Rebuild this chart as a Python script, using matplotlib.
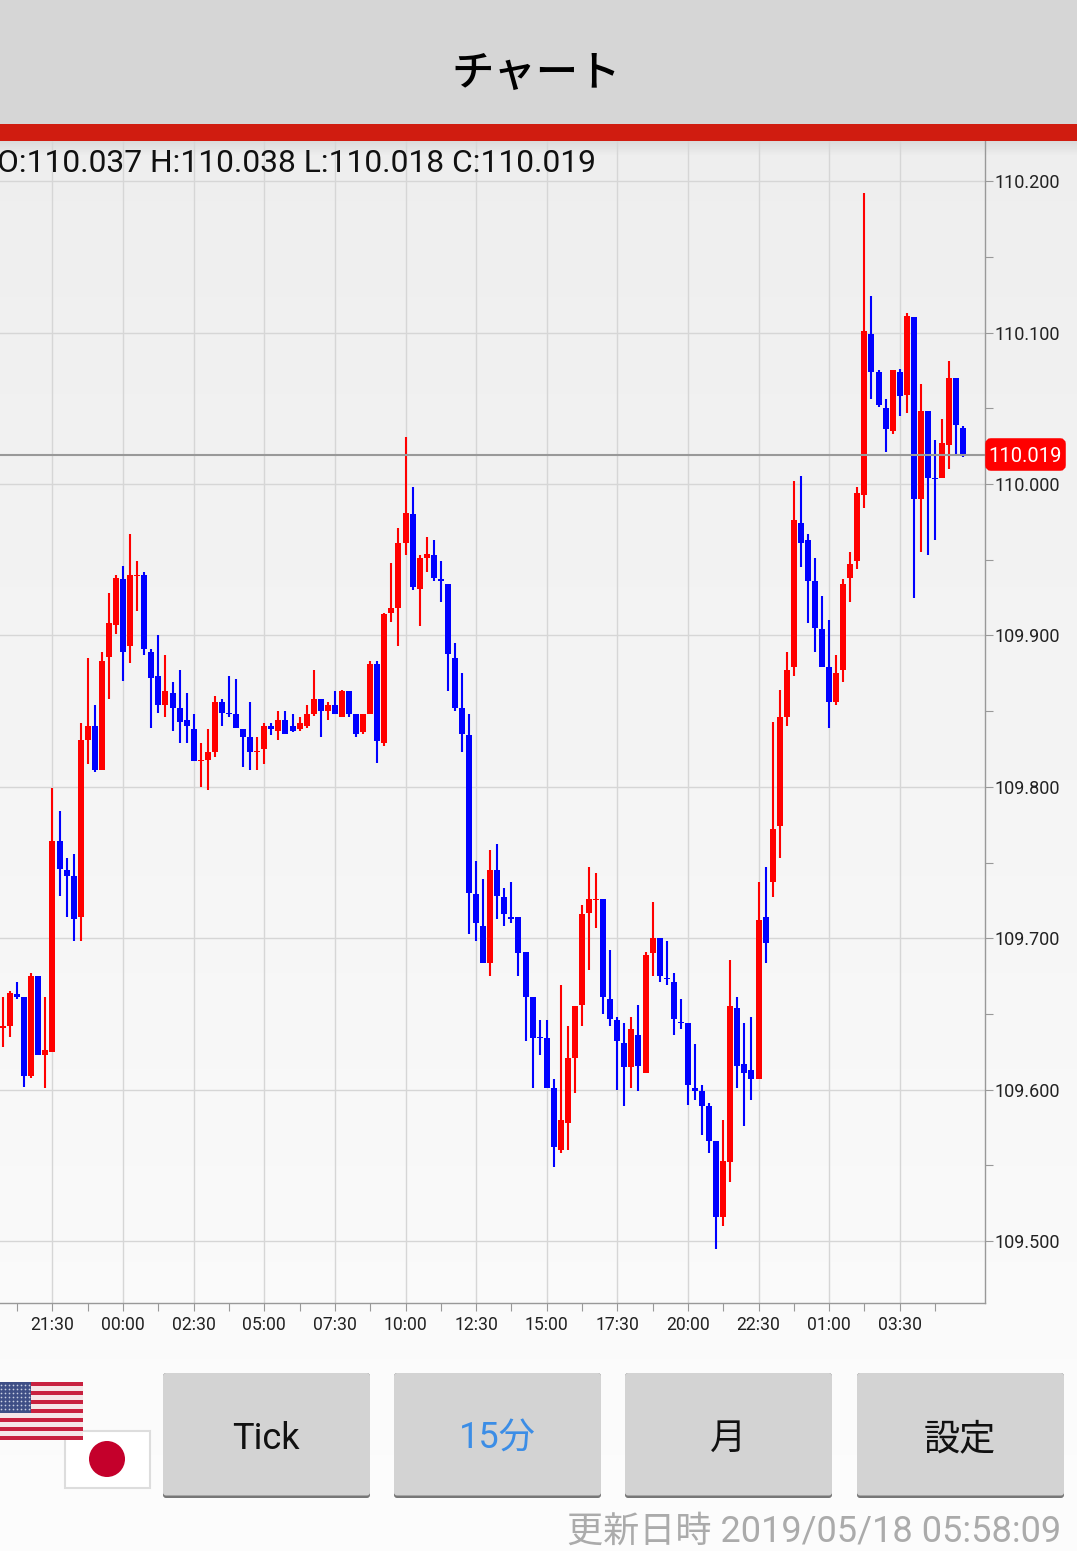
import matplotlib
matplotlib.use("Agg")
import matplotlib.pyplot as plt
from matplotlib.patches import Rectangle, FancyBboxPatch, Circle
import numpy as np

plt.rcParams['font.family'] = ['Roboto', 'Noto Sans CJK JP', 'DejaVu Sans']

W, H = 1077, 1551

# 15 minute candles, first one is 7 bars before the 21:30 label
opens = [
    109.641, 109.642, 109.663, 109.661, 109.609, 109.675, 109.623,
    109.625, 109.764, 109.745, 109.741, 109.714, 109.831, 109.840, 109.811, 109.886, 109.907,
    109.937, 109.893, 109.939, 109.940, 109.889, 109.873, 109.854, 109.862, 109.852, 109.844,
    109.838, 109.817, 109.818, 109.823, 109.856, 109.849, 109.848, 109.838, 109.833, 109.823,
    109.825, 109.840, 109.837, 109.844, 109.840, 109.838, 109.840, 109.848, 109.858, 109.850,
    109.854, 109.846, 109.863, 109.848, 109.836, 109.848, 109.881, 109.829, 109.915, 109.918,
    109.961, 109.980, 109.931, 109.951, 109.953, 109.937, 109.934, 109.885, 109.852, 109.834,
    109.729, 109.708, 109.684, 109.745, 109.727, 109.714, 109.714, 109.691, 109.661, 109.635,
    109.634, 109.601, 109.560, 109.578, 109.621, 109.656, 109.717, 109.725, 109.726, 109.660,
    109.646, 109.631, 109.615, 109.636, 109.611, 109.690, 109.700, 109.674, 109.671, 109.645,
    109.644, 109.601, 109.599, 109.589, 109.566, 109.516, 109.552, 109.654, 109.617, 109.613,
    109.607, 109.714, 109.737, 109.774, 109.846, 109.879, 109.974, 109.963, 109.936, 109.904,
    109.879, 109.856, 109.877, 109.938, 109.949, 109.993, 110.099, 110.074, 110.050, 110.035,
    110.074, 110.059, 110.110, 109.990, 110.048, 110.004, 110.004, 110.026, 110.070, 110.037,
]
highs = [
    109.661, 109.665, 109.671, 109.661, 109.677, 109.675, 109.661,
    109.799, 109.784, 109.753, 109.756, 109.842, 109.885, 109.854, 109.889, 109.928, 109.940,
    109.946, 109.967, 109.949, 109.942, 109.891, 109.900, 109.887, 109.869, 109.877, 109.862,
    109.848, 109.829, 109.838, 109.860, 109.858, 109.873, 109.871, 109.838, 109.856, 109.833,
    109.842, 109.842, 109.850, 109.850, 109.848, 109.846, 109.854, 109.877, 109.858, 109.856,
    109.863, 109.864, 109.863, 109.848, 109.848, 109.883, 109.883, 109.915, 109.948, 109.971,
    110.031, 109.998, 109.953, 109.965, 109.963, 109.949, 109.934, 109.895, 109.875, 109.848,
    109.751, 109.739, 109.758, 109.762, 109.733, 109.737, 109.714, 109.691, 109.661, 109.646,
    109.646, 109.607, 109.669, 109.642, 109.655, 109.722, 109.747, 109.743, 109.726, 109.692,
    109.648, 109.644, 109.648, 109.656, 109.691, 109.724, 109.700, 109.698, 109.677, 109.660,
    109.644, 109.630, 109.603, 109.591, 109.566, 109.580, 109.686, 109.661, 109.644, 109.648,
    109.737, 109.747, 109.843, 109.864, 109.889, 110.002, 110.005, 109.967, 109.951, 109.926,
    109.910, 109.887, 109.937, 109.955, 109.998, 110.192, 110.124, 110.075, 110.056, 110.075,
    110.076, 110.113, 110.110, 110.066, 110.048, 110.029, 110.043, 110.081, 110.070, 110.038,
]
lows = [
    109.628, 109.635, 109.660, 109.602, 109.608, 109.623, 109.601,
    109.625, 109.728, 109.714, 109.698, 109.698, 109.815, 109.810, 109.811, 109.858, 109.901,
    109.870, 109.882, 109.916, 109.887, 109.839, 109.849, 109.846, 109.837, 109.829, 109.829,
    109.817, 109.800, 109.798, 109.820, 109.840, 109.846, 109.839, 109.813, 109.811, 109.811,
    109.815, 109.834, 109.831, 109.835, 109.836, 109.837, 109.839, 109.847, 109.833, 109.844,
    109.848, 109.846, 109.846, 109.833, 109.835, 109.848, 109.816, 109.827, 109.909, 109.893,
    109.953, 109.930, 109.906, 109.942, 109.936, 109.922, 109.863, 109.850, 109.823, 109.703,
    109.698, 109.684, 109.675, 109.713, 109.708, 109.710, 109.675, 109.632, 109.601, 109.623,
    109.601, 109.549, 109.558, 109.560, 109.598, 109.642, 109.679, 109.707, 109.650, 109.642,
    109.600, 109.589, 109.601, 109.599, 109.611, 109.675, 109.671, 109.669, 109.636, 109.640,
    109.590, 109.593, 109.570, 109.558, 109.495, 109.510, 109.539, 109.601, 109.576, 109.593,
    109.607, 109.684, 109.727, 109.753, 109.840, 109.873, 109.945, 109.908, 109.889, 109.879,
    109.839, 109.854, 109.869, 109.922, 109.944, 109.984, 110.056, 110.051, 110.021, 110.033,
    110.045, 110.047, 109.925, 109.955, 109.953, 109.963, 110.004, 110.010, 110.020, 110.018,
]
closes = [
    109.642, 109.664, 109.661, 109.609, 109.675, 109.623, 109.626,
    109.764, 109.746, 109.741, 109.713, 109.831, 109.840, 109.811, 109.883, 109.908, 109.938,
    109.889, 109.940, 109.940, 109.891, 109.872, 109.854, 109.863, 109.852, 109.843, 109.840,
    109.817, 109.818, 109.823, 109.856, 109.849, 109.848, 109.839, 109.833, 109.823, 109.824,
    109.840, 109.838, 109.844, 109.835, 109.837, 109.842, 109.848, 109.858, 109.850, 109.854,
    109.848, 109.863, 109.848, 109.835, 109.848, 109.881, 109.830, 109.914, 109.918, 109.961,
    109.981, 109.932, 109.951, 109.954, 109.938, 109.936, 109.888, 109.852, 109.835, 109.730,
    109.710, 109.684, 109.745, 109.728, 109.716, 109.713, 109.690, 109.661, 109.634, 109.634,
    109.601, 109.562, 109.580, 109.621, 109.655, 109.716, 109.726, 109.726, 109.661, 109.647,
    109.632, 109.615, 109.640, 109.616, 109.689, 109.700, 109.675, 109.673, 109.647, 109.644,
    109.603, 109.599, 109.589, 109.566, 109.516, 109.553, 109.655, 109.616, 109.611, 109.607,
    109.712, 109.697, 109.772, 109.846, 109.877, 109.976, 109.961, 109.936, 109.905, 109.879,
    109.856, 109.875, 109.934, 109.947, 109.994, 110.101, 110.074, 110.052, 110.036, 110.075,
    110.058, 110.111, 109.990, 110.048, 110.004, 110.003, 110.027, 110.070, 110.039, 110.019,
]
first_bar = -7

time_labels = ["21:30", "00:00", "02:30", "05:00", "07:30", "10:00", "12:30",
               "15:00", "17:30", "20:00", "22:30", "01:00", "03:30"]
price_major = [109.5, 109.6, 109.7, 109.8, 109.9, 110.0, 110.1, 110.2]
price_minor = [109.55, 109.65, 109.75, 109.85, 109.95, 110.05, 110.15]
last_price = 110.019
ohlc_text = "O:110.037 H:110.038 L:110.018 C:110.019"
buttons = ["Tick", "15分", "月", "設定"]
updated = "更新日時 2019/05/18 05:58:09"


def draw_background(fig):
    bg = fig.add_axes([0, 0, 1, 1], zorder=0)
    col = np.linspace(236, 252, H)
    col[:155] = 236
    col[141:155] = np.linspace(218, 236, 14)
    bg.imshow(col[:, None], cmap="gray", vmin=0, vmax=255, aspect="auto",
              extent=[0, W, H, 0])
    bg.axis("off")


def draw_chart(fig):
    # chart area in pixels: x 0-985, y 141-1303
    ax = fig.add_axes([0, 1 - 1303 / H, 985 / W, (1303 - 141) / H], zorder=1)
    ax.patch.set_alpha(0)

    o = np.array(opens)
    c = np.array(closes)
    x = np.arange(len(o)) + first_bar
    colors = np.where(c >= o, "#ff0000", "#0000ff")

    ax.vlines(x, lows, highs, colors=colors, linewidth=1.5, zorder=3)
    ax.bar(x, np.abs(c - o), bottom=np.minimum(o, c), width=0.85, color=colors,
           linewidth=0, zorder=3)
    ax.axhline(last_price, color="#999999", linewidth=1.5, zorder=4)

    ax.set_xlim(-7.436, 132.08)
    ax.set_ylim(109.4592, 110.2265)

    ax.yaxis.tick_right()
    ax.set_yticks(price_major)
    ax.set_yticks(price_minor, minor=True)
    ax.set_yticklabels(["%.3f" % p for p in price_major])
    ax.set_xticks(np.arange(len(time_labels)) * 10)
    ax.set_xticklabels(time_labels)
    ax.set_xticks([-5, 5, 15, 25, 35, 45, 55, 65, 75, 85, 95, 105, 115, 125], minor=True)

    ax.grid(True, which="major", color="#d6d6d6", linewidth=1.0, zorder=1)
    ax.set_axisbelow(True)
    ax.tick_params(axis="y", which="both", length=5.8, width=0.8, color="#999999",
                   labelsize=13, labelcolor="#222222", pad=1.0)
    ax.tick_params(axis="x", which="both", length=5.8, width=0.8, color="#999999",
                   labelsize=12.7, labelcolor="#222222", pad=3.5)
    for side in ["top", "left"]:
        ax.spines[side].set_visible(False)
    for side in ["right", "bottom"]:
        ax.spines[side].set_color("#999999")
        ax.spines[side].set_linewidth(1.0)


def draw_flags(ov):
    # japan first, the us flag overlaps its corner
    ov.add_patch(Rectangle((65, 1431), 85, 57, fc="white", ec="#dddddd", lw=1.5))
    ov.add_patch(Circle((107, 1459), 18, fc="#c4002b", ec="none"))

    stripe = 58 / 13
    for n in range(13):
        color = "#c8203f" if n % 2 == 0 else "#f5e6e8"
        ov.add_patch(Rectangle((0, 1382 + n * stripe), 83, stripe, fc=color, ec="none"))
    ov.add_patch(Rectangle((0, 1382), 31, stripe * 7, fc="#3f4f86", ec="none"))
    sx, sy = np.meshgrid(np.arange(1, 31, 4), np.arange(1385, 1412, 4))
    ov.scatter(sx.ravel(), sy.ravel(), s=1.5, c="#c9cfe2", linewidths=0)


def draw_overlay(fig):
    ov = fig.add_axes([0, 0, 1, 1], zorder=2)
    ov.set_xlim(0, W)
    ov.set_ylim(H, 0)
    ov.axis("off")

    # title bar and red strip
    ov.add_patch(Rectangle((0, 0), W, 124, fc="#d6d6d6", ec="none"))
    ov.add_patch(Rectangle((0, 124), W, 17, fc="#d01c10", ec="none"))
    ov.text(536, 74, "チャート", fontsize=30.5, ha="center", va="center", color="#000000",
            weight="medium")
    ov.text(-3, 163, ohlc_text, fontsize=22.9, ha="left", va="center", color="#111111")

    # current price tag
    ov.add_patch(FancyBboxPatch((988, 441), 75, 27, boxstyle="round,pad=0,rounding_size=3",
                                fc="#ff0000", ec="#ff0000", lw=4))
    ov.text(1025.5, 457, "%.3f" % last_price, fontsize=14.5, ha="center", va="center",
            color="white")

    draw_flags(ov)

    lefts = [163, 394, 625, 857]
    for left, label in zip(lefts, buttons):
        ov.add_patch(FancyBboxPatch((left, 1373), 207, 125,
                                    boxstyle="round,pad=0,rounding_size=3",
                                    fc="#777777", ec="none"))
        ov.add_patch(FancyBboxPatch((left, 1373), 207, 122.5,
                                    boxstyle="round,pad=0,rounding_size=3",
                                    fc="#d3d3d3", ec="none"))
        color = "#3b8de6" if label == "15分" else "#111111"
        ov.text(left + 103, 1439, label, fontsize=26, ha="center", va="center", color=color)

    ov.text(1061, 1532, updated, fontsize=26, ha="right", va="center", color="#ababab")


def main():
    fig = plt.figure(figsize=(W / 100, H / 100), dpi=100)
    draw_background(fig)
    draw_chart(fig)
    draw_overlay(fig)
    fig.savefig("out.png", dpi=100)


if __name__ == "__main__":
    main()
